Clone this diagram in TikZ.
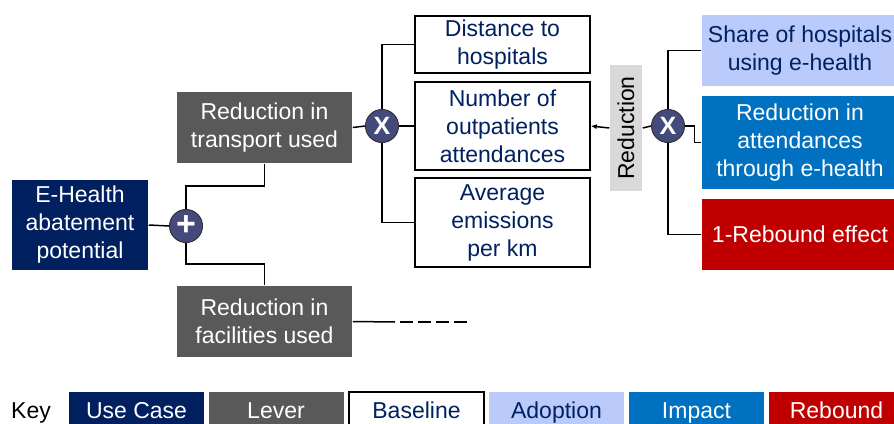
\documentclass[tikz,border=0pt]{standalone}
\usepackage{fontspec}
\usepackage{graphicx}
\setmainfont{Liberation Sans}
\usetikzlibrary{arrows.meta}
\definecolor{cUseCase}{HTML}{002060}
\definecolor{cLever}{HTML}{595959}
\definecolor{cAdopt}{HTML}{BACBFB}
\definecolor{cImpact}{HTML}{0070C0}
\definecolor{cRebound}{HTML}{C00000}
\definecolor{cOp}{HTML}{454A7D}
\definecolor{cLabel}{HTML}{D9D9D9}

\begin{document}
\begin{tikzpicture}[x=1pt, y=-1pt, line width=1.5pt, font=\fontsize{23}{28}\selectfont]
  \useasboundingbox (0,0) rectangle (894,423);  % Seitenformat festlegen.
  \tikzstyle{box}=[rectangle, inner sep=0pt, align=center]
  \tikzstyle{usecasebox}=[box, fill=cUseCase, text=white]
  \tikzstyle{leverbox}=[box, fill=cLever, text=white]
  \tikzstyle{basebox}=[box, draw=black, fill=white, text=cUseCase]
  \tikzstyle{adoptbox}=[box, fill=cAdopt, text=cUseCase]
  \tikzstyle{impactbox}=[box, fill=cImpact, text=white]
  \tikzstyle{reboundbox}=[box, fill=cRebound, text=white]
  \tikzstyle{op}=[circle, draw=black!80, line width=1pt, fill=cOp, text=white,
                  minimum size=33pt, inner sep=0pt, font=\fontsize{25}{25}\selectfont\bfseries]
  \tikzstyle{keybox}=[minimum width=135pt, minimum height=36pt, text height=17pt, text depth=1pt]

  % Baum
  \node[usecasebox, minimum width=136, minimum height=90] (ehealth) at (80,225)
    {E-Health\\abatement\\potential};
  \node[op, font=\fontsize{34}{34}\selectfont\bfseries] (plus) at (186,226) {+};
  \node[leverbox, minimum width=175, minimum height=71] (transport) at (264.5,127.5)
    {Reduction in\\transport used};
  \node[leverbox, minimum width=175, minimum height=71] (facilities) at (264.5,321.5)
    {Reduction in\\facilities used};
  \node[op] (mult1) at (382,126) {X};
  \node[basebox, minimum width=175, minimum height=57] (distance) at (502.5,44.5)
    {Distance to\\hospitals};
  \node[basebox, minimum width=175, minimum height=88] (number) at (502.5,126)
    {Number of\\outpatients\\attendances};
  \node[basebox, minimum width=175, minimum height=89] (average) at (502.5,222.5)
    {Average\\emissions\\per km};
  \node[box, fill=cLabel, minimum width=32, minimum height=126] (redlabel) at (626,128)
    {\rotatebox{90}{Reduction}};
  \node[op] (mult2) at (668,126) {X};
  \node[adoptbox, minimum width=196, minimum height=71] (share) at (800,50.5)
    {Share of hospitals\\using e-health};
  \node[impactbox, minimum width=196, minimum height=93] (attend) at (800,142.5)
    {Reduction in\\attendances\\through e-health};
  \node[reboundbox, minimum width=196, minimum height=71] (rebound) at (800,234.5)
    {1-Rebound effect};
  \coordinate (solidend) at (395,322);
  \coordinate (dashstart) at (400,322);
  \coordinate (dashend) at (468,322);

  \draw (ehealth.east) -- (plus.west);
  \draw (transport.south) -- ++(0,22) -| (plus.north);
  \draw (plus.south) -- ++(0,21) -| (facilities.north);
  \draw (facilities.east) -- (solidend);
  \draw[dash pattern=on 13pt off 5pt] (dashstart) -- (dashend);
  \draw (transport.east) -- (mult1.west);
  \draw (mult1.east) -- (number.west);
  \draw (distance.west) -| (mult1.north);
  \draw (average.west) -| (mult1.south);
  \draw[-{Latex[length=6pt, width=5pt]}] (redlabel.west) -- (number.east);
  \draw (redlabel.east) -- (mult2.west);
  \draw (share.west) -| (mult2.north);
  \draw (rebound.west) -| (mult2.south);
  \draw (mult2.east) -- ++(9.5,0) |- (attend.west);

  % Legende
  \node[box, text height=17pt, text depth=1pt] (key) at (31,410) {Key};
  \node[usecasebox, keybox] (kusecase) at (136.5,410) {Use Case};
  \node[leverbox, keybox] (klever) at (276,410) {Lever};
  \node[basebox, keybox] (kbase) at (416.5,410) {Baseline};
  \node[adoptbox, keybox] (kadopt) at (556.5,410) {Adoption};
  \node[impactbox, keybox] (kimpact) at (696.5,410) {Impact};
  \node[reboundbox, keybox] (krebound) at (836.5,410) {Rebound};
\end{tikzpicture}
\end{document}
